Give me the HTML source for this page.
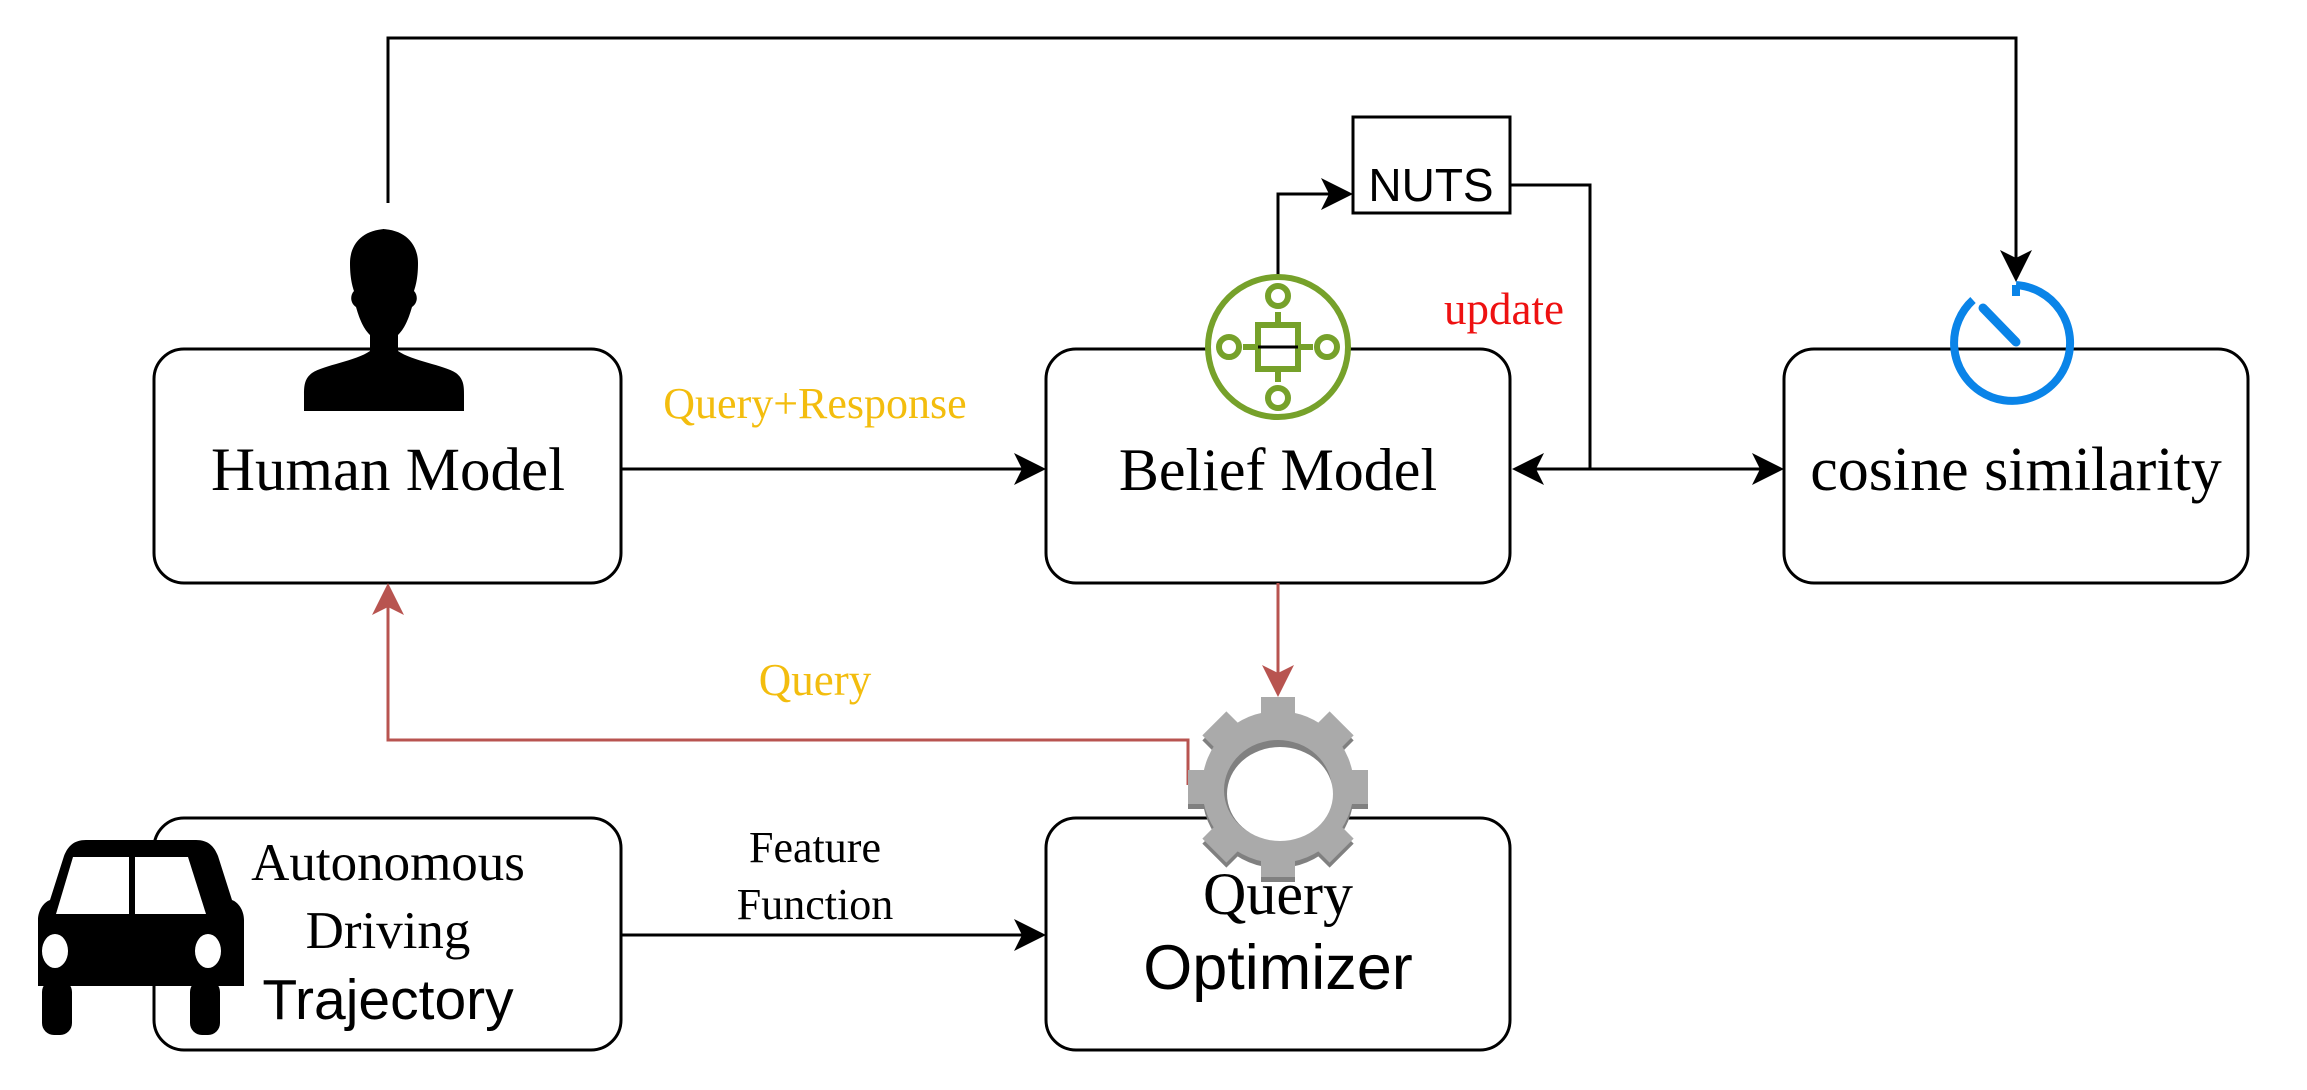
<!DOCTYPE html>
<html><head><meta charset="utf-8"><style>
html,body{margin:0;padding:0;background:#fff;}
svg{display:block;}
</style></head><body>
<svg width="2307" height="1090" viewBox="0 0 2307 1090" xmlns="http://www.w3.org/2000/svg">
<g fill="none" stroke="#000" stroke-width="3">
<polyline points="388,203 388,38 2016,38 2016,268"/>
<rect x="154" y="349" width="467" height="234" rx="30"/>
<rect x="1046" y="349" width="464" height="234" rx="30"/>
<rect x="1784" y="349" width="464" height="234" rx="30"/>
<rect x="154" y="818" width="467" height="232" rx="30"/>
<rect x="1046" y="818" width="464" height="232" rx="30"/>
<rect x="1353" y="117" width="157" height="96"/>
<line x1="621" y1="469" x2="1030" y2="469"/>
<polyline points="1278,276 1278,194 1339,194"/>
<polyline points="1510,185 1590,185 1590,469"/>
<line x1="1526" y1="469" x2="1769" y2="469"/>
<line x1="621" y1="935" x2="1030" y2="935"/>
</g>
<g fill="#000">
<path d="M1046,469 l-32,-16 l8,16 l-8,16z"/>
<path d="M1353,194 l-32,-16 l8,16 l-8,16z"/>
<path d="M1512,469 l32,-16 l-8,16 l8,16z"/>
<path d="M1784,469 l-32,-16 l8,16 l-8,16z"/>
<path d="M1046,935 l-32,-16 l8,16 l-8,16z"/>
<path d="M2016,282 l-16,-32 l16,8 l16,-8z"/>
</g>
<g fill="none" stroke="#b85450" stroke-width="3">
<line x1="1278" y1="583" x2="1278" y2="680"/>
<polyline points="1188,785 1188,740 388,740 388,600"/>
</g>
<g fill="#b85450">
<path d="M1278,697 l-16,-32 l16,8 l16,-8z"/>
<path d="M388,583 l-16,32 l16,-8 l16,8z"/>
</g>
<g fill="#000">
<path d="M388,229 c-26,0 -38,16 -38,34 c0,14 2,22 4,28 c-4,4 -4,12 2,16 c4,14 8,22 14,28 l0,16 c-14,10 -46,14 -58,22 c-8,6 -8,14 -8,22 l0,16 l160,0 l0,-16 c0,-8 0,-16 -8,-22 c-12,-8 -44,-12 -58,-22 l0,-16 c6,-6 10,-14 14,-28 c6,-4 6,-12 2,-16 c2,-6 4,-14 4,-28 c0,-18 -12,-34 -38,-34z"/>
</g>
<g fill="#fff" stroke="#76a12a" stroke-width="6">
<circle cx="1278" cy="347" r="70"/>
<line x1="1278" y1="312" x2="1278" y2="382"/>
<line x1="1243" y1="347" x2="1313" y2="347"/>
<rect x="1258" y="325" width="40" height="44"/>
<circle cx="1278" cy="296" r="10"/>
<circle cx="1278" cy="398" r="10"/>
<circle cx="1229" cy="347" r="10"/>
<circle cx="1327" cy="347" r="10"/>
</g>
<line x1="1258" y1="347" x2="1298" y2="347" stroke="#000" stroke-width="3"/>
<g fill="none" stroke="#0a84e8" stroke-width="8">
<path d="M2016,285 A58,58 0 1 1 1973,300"/>
<line x1="2016" y1="285" x2="2016" y2="296"/>
<line x1="1983" y1="308" x2="2016" y2="342" stroke-linecap="round" stroke-width="9"/>
</g>
<g>
<g fill="#808080" transform="translate(0,5)">
<circle cx="1278" cy="787" r="76"/>
<g id="teeth">
<rect x="1261" y="697" width="34" height="30"/>
<rect x="1261" y="847" width="34" height="30"/>
<rect x="1188" y="770" width="30" height="34"/>
<rect x="1338" y="770" width="30" height="34"/>
<rect x="1261" y="697" width="34" height="30" transform="rotate(45 1278 787)"/>
<rect x="1261" y="697" width="34" height="30" transform="rotate(-45 1278 787)"/>
<rect x="1261" y="697" width="34" height="30" transform="rotate(135 1278 787)"/>
<rect x="1261" y="697" width="34" height="30" transform="rotate(-135 1278 787)"/>
</g>
</g>
<g fill="#aaaaaa">
<circle cx="1278" cy="787" r="76"/>
<use href="#teeth"/>
</g>
<ellipse cx="1278" cy="790" rx="54" ry="50" fill="#808080"/>
<ellipse cx="1280" cy="794" rx="53" ry="47" fill="#fff"/>
</g>
<g fill="#000">
<path d="M66,840 h130 c12,0 18,6 22,16 l14,44 c6,2 12,10 12,20 l0,66 l-206,0 l0,-66 c0,-10 6,-18 12,-20 l14,-44 c4,-10 10,-16 22,-16z"/>
<rect x="42" y="980" width="30" height="55" rx="12"/>
<rect x="190" y="980" width="30" height="55" rx="12"/>
</g>
<g fill="#fff">
<path d="M73,857 h56 v57 h-73z"/>
<path d="M135,857 h53 l18,57 h-71z"/>
<ellipse cx="55" cy="951" rx="13" ry="17"/>
<ellipse cx="208" cy="951" rx="13" ry="17"/>
</g>
<g font-family="'Liberation Serif', serif" text-anchor="middle">
<text x="388" y="490" font-size="61">Human Model</text>
<text x="1278" y="490" font-size="60">Belief Model</text>
<text x="2016" y="490" font-size="62">cosine similarity</text>
<text x="815" y="418" font-size="44" fill="#f3bd0e">Query+Response</text>
<text x="815" y="695" font-size="45" fill="#f3bd0e">Query</text>
<text x="1504" y="324" font-size="45" fill="#ee1111">update</text>
<text x="815" y="862" font-size="44">Feature</text>
<text x="815" y="919" font-size="44">Function</text>
<text x="388" y="880" font-size="53">Autonomous</text>
<text x="388" y="948" font-size="53">Driving</text>
<text x="1278" y="914" font-size="60">Query</text>
</g>
<g font-family="'Liberation Sans', sans-serif" text-anchor="middle">
<text x="388" y="1019" font-size="57">Trajectory</text>
<text x="1278" y="989" font-size="63">Optimizer</text>
<text x="1431" y="201" font-size="46">NUTS</text>
</g>
</svg>
</body></html>
